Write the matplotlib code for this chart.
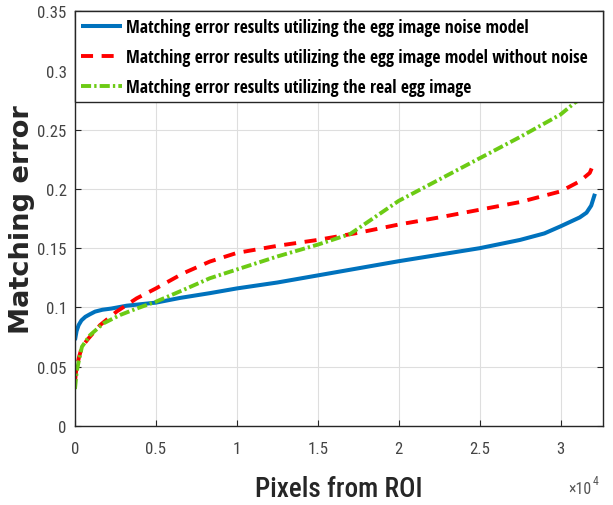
import os
import matplotlib
matplotlib.use("Agg")
import matplotlib.pyplot as plt
from matplotlib import font_manager as fm
from matplotlib.font_manager import FontProperties

# ---------------- data ----------------
blue_x = [0, 100, 225, 400, 640, 900, 1240, 1700, 2250, 3190, 5000, 6500, 8330, 10000,
          12500, 15000, 17500, 20000, 22500, 25000, 27500, 29000, 30000, 31180, 31600, 31890, 32120]
blue_y = [0.0723, 0.080, 0.085, 0.089, 0.092, 0.094, 0.0964, 0.098, 0.099, 0.1014, 0.104, 0.108,
          0.112, 0.116, 0.121, 0.127, 0.133, 0.139, 0.1445, 0.150, 0.157, 0.1625, 0.1685, 0.176,
          0.180, 0.186, 0.196]

red_x = [0, 60, 120, 250, 430, 830, 1550, 2570, 3810, 5000, 6690, 8330, 10000, 12500, 15000,
         17500, 20000, 22500, 25000, 27500, 30000, 31180, 31800, 32120]
red_y = [0.037, 0.045, 0.05, 0.058, 0.0667, 0.0737, 0.085, 0.0964, 0.1076, 0.116, 0.1288, 0.1387,
         0.146, 0.152, 0.157, 0.163, 0.170, 0.176, 0.1825, 0.189, 0.198, 0.2065, 0.2136, 0.224]

green_x = [0, 100, 225, 430, 930, 1750, 2780, 3810, 5000, 6690, 8330, 10000, 12500, 15000,
           17000, 20000, 22500, 25000, 27500, 30000, 30880, 32120]
green_y = [0.031, 0.045, 0.054, 0.0667, 0.0765, 0.0864, 0.0935, 0.099, 0.1048, 0.1147, 0.1246,
           0.132, 0.143, 0.153, 0.162, 0.19, 0.208, 0.226, 0.244, 0.263, 0.273, 0.283]

labels = ["Matching error results utilizing the egg image noise model",
          "Matching error results utilizing the egg image model without noise",
          "Matching error results utilizing the real egg image"]

xticks = [0, 5000, 10000, 15000, 20000, 25000, 30000]
xtick_labels = ["0", "0.5", "1", "1.5", "2", "2.5", "3"]
yticks = [0, 0.05, 0.1, 0.15, 0.2, 0.25, 0.3, 0.35]
ytick_labels = ["0", "0.05", "0.1", "0.15", "0.2", "0.25", "0.3", "0.35"]

# ---------------- fonts ----------------
files = {os.path.basename(f.fname): f.fname for f in fm.fontManager.ttflist}


def pick(cands, family='DejaVu Sans', weight='normal'):
    for c in cands:
        if c in files:
            return FontProperties(fname=files[c])
    return FontProperties(family=family, weight=weight)


fp_legend = pick(['NotoSans-ExtraCondensedBold.ttf', 'OpenSans-CondBold.ttf',
                  'NotoSans-CondensedBold.ttf', 'LiberationSansNarrow-Bold.ttf',
                  'RobotoCondensed-Bold.ttf', 'DejaVuSansCondensed-Bold.ttf'], weight='bold')
fp_xlabel = pick(['NotoSans-CondensedSemiBold.ttf', 'NotoSans-CondensedMedium.ttf',
                  'NotoSans-CondensedBold.ttf', 'RobotoCondensed-Medium.ttf',
                  'LiberationSansNarrow-Bold.ttf', 'RobotoCondensed-Bold.ttf',
                  'DejaVuSansCondensed-Bold.ttf'], weight='bold')
fp_tick = pick(['NotoSans-Condensed.ttf', 'LiberationSansNarrow-Regular.ttf',
                'RobotoCondensed-Regular.ttf', 'OpenSans-CondLight.ttf',
                'DejaVuSansCondensed.ttf'])
fp_ylabel = FontProperties(family='DejaVu Sans', weight='bold')

fig = plt.figure(figsize=(6.13, 5.06), dpi=100)
renderer = fig.canvas.get_renderer()


def fit(fp, s, target_w, max_size):
    f = fp.copy()
    f.set_size(10)
    t = fig.text(0, 0, s, fontproperties=f)
    w = t.get_window_extent(renderer).width
    t.remove()
    return min(10 * target_w / w, max_size)


leg_size = fit(fp_legend, labels[1], 463, 15.5)
xl_size = fit(fp_xlabel, "Pixels from ROI", 167, 20)
tk_size = fit(fp_tick, "0.35", 29, 14)
yl_size = fit(fp_ylabel, "Matching error", 230, 21)

fp_legend.set_size(leg_size)
fp_xlabel.set_size(xl_size)
fp_tick.set_size(tk_size)
fp_ylabel.set_size(yl_size)

# ---------------- plot ----------------
ax = fig.add_axes([0.1223, 0.1567, 0.8609, 0.8186])

ax.plot(blue_x, blue_y, color='#0072BD', lw=2.9, label=labels[0], solid_capstyle='butt')
ax.plot(red_x, red_y, color='#FF0000', lw=2.8, ls=(0, (3.1, 2.2)), label=labels[1])
ax.plot(green_x, green_y, color='#6CCB14', lw=2.8, ls=(0, (2.6, 0.8, 0.6, 0.8)), label=labels[2])

ax.set_xlim(0, 32600)
ax.set_ylim(0, 0.35)
ax.set_xticks(xticks)
ax.set_xticklabels(xtick_labels, fontproperties=fp_tick)
ax.set_yticks(yticks)
ax.set_yticklabels(ytick_labels, fontproperties=fp_tick)
ax.tick_params(direction='in', top=True, right=True, colors='#262626', length=4,
               labelcolor='#444444')
ax.tick_params(axis='x', pad=11)
ax.tick_params(axis='y', pad=6)
ax.grid(True, color='#dedede', lw=0.8)
for s in ax.spines.values():
    s.set_color('#262626')
    s.set_linewidth(1.0)

ax.set_xlabel("Pixels from ROI", fontproperties=fp_xlabel, color='#262626', labelpad=14)
ax.set_ylabel("Matching error", fontproperties=fp_ylabel, color='#262626')
ax.yaxis.set_label_coords(-0.075, 0.5)

fp_off = fp_tick.copy()
fp_off.set_size(tk_size * 0.95)
fp_sup = fp_tick.copy()
fp_sup.set_size(tk_size * 0.7)
fig.text(568 / 613, 1 - 494 / 506, "\u00d710", fontproperties=fp_off, color='#555555',
         ha='left', va='baseline')
fig.text(593 / 613, 1 - 485 / 506, "4", fontproperties=fp_sup, color='#555555',
         ha='left', va='baseline')

leg = ax.legend(loc='upper left', bbox_to_anchor=(0, 0.7815, 1, 0.2185), mode='expand',
                borderaxespad=0, fancybox=False, framealpha=1, edgecolor='#262626',
                prop=fp_legend, handlelength=2.3, handletextpad=0.25,
                labelspacing=0.68, borderpad=0.36)
leg.get_frame().set_linewidth(1.0)

fig.savefig("out.png", dpi=100)
